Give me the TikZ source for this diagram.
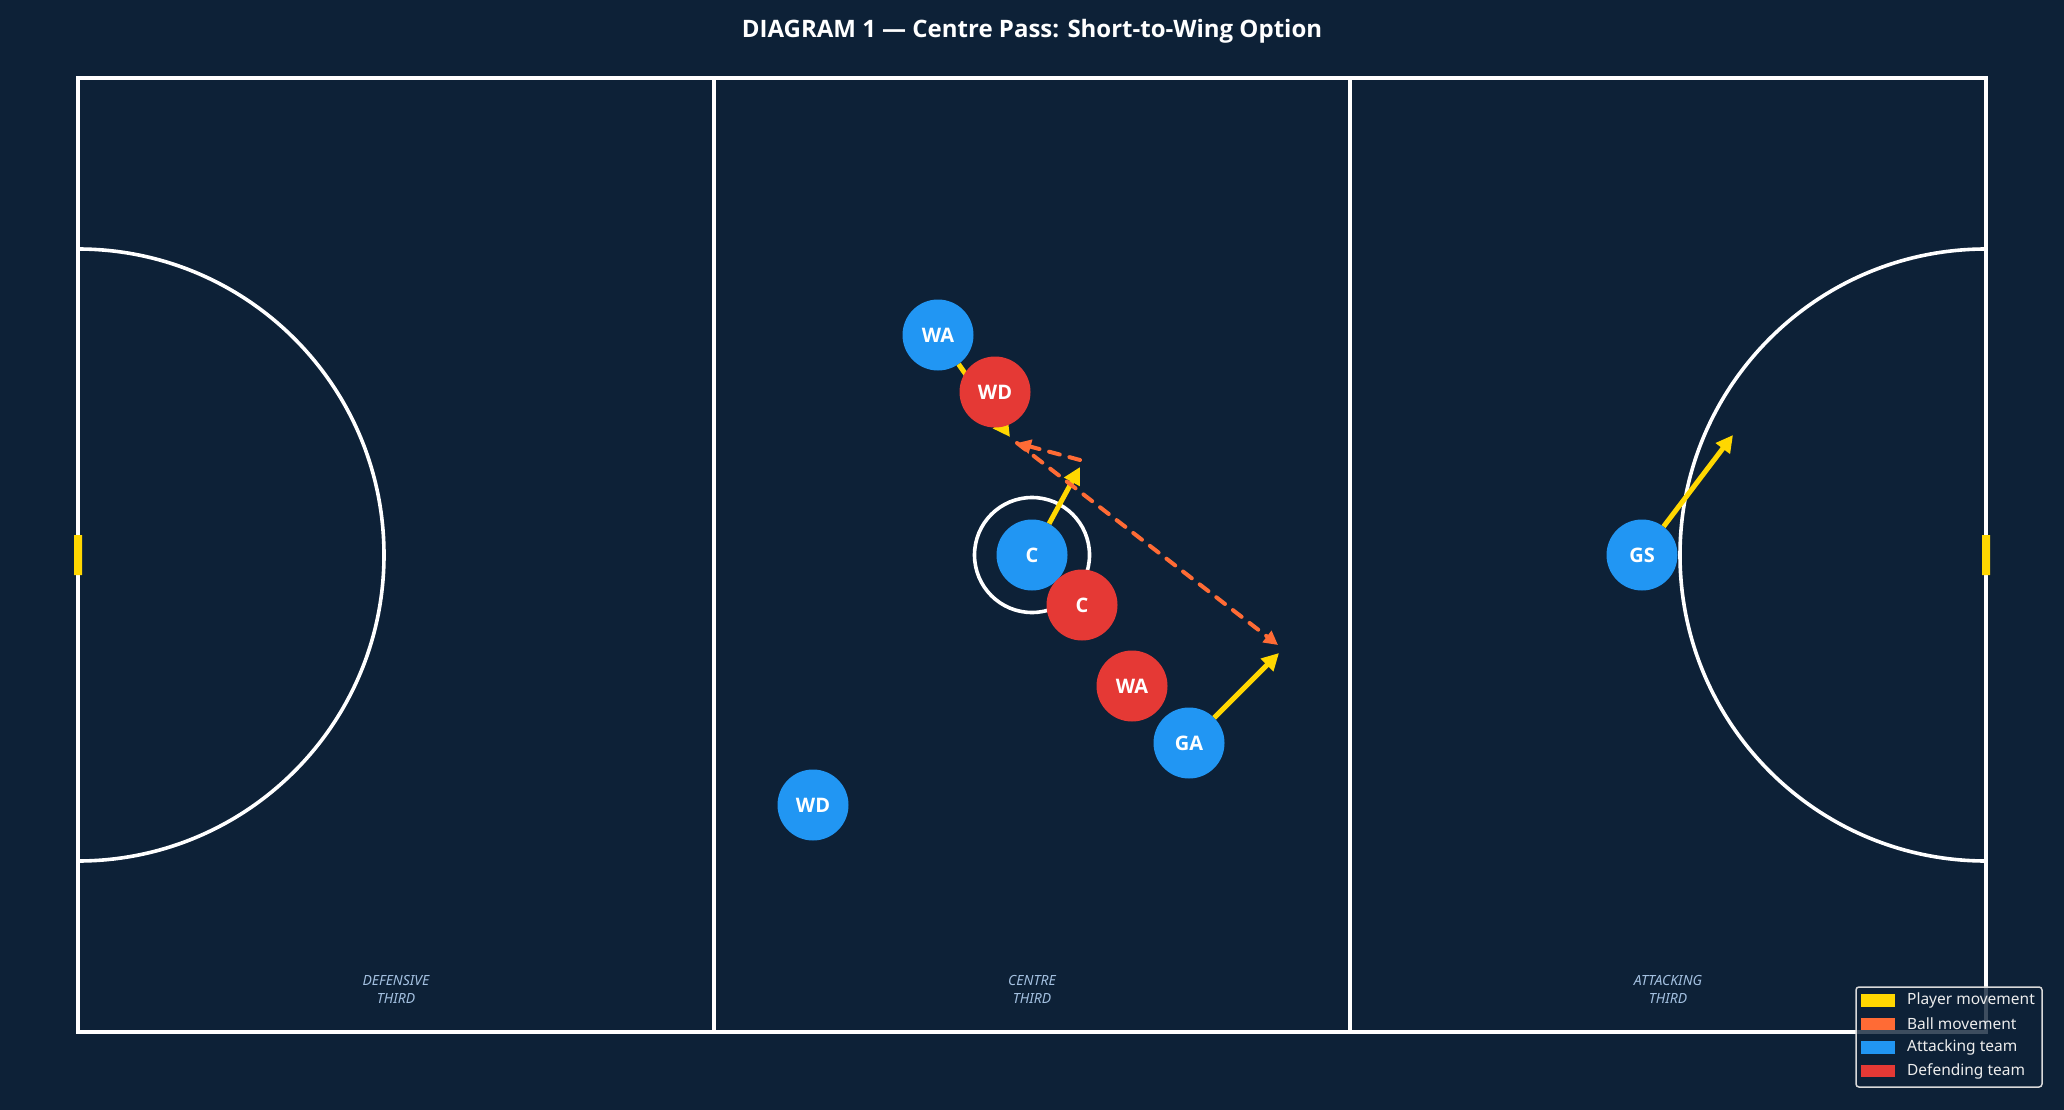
\documentclass[tikz,border=0pt]{standalone}
\usepackage{fontspec}
\setmainfont{Noto Sans}
\newfontfamily\headfont{Open Sans}
\usetikzlibrary{arrows.meta, positioning}

\definecolor{courtbg}{HTML}{0D2137}
\definecolor{attack}{HTML}{2196F3}
\definecolor{defend}{HTML}{E53935}
\definecolor{runcol}{HTML}{FFD700}
\definecolor{ballcol}{HTML}{FF6B35}
\definecolor{zonecol}{HTML}{A3C0E0}

\begin{document}
\begin{tikzpicture}[x=1pt, y=-1pt,
    courtline/.style={draw=white, line width=3.6pt},
    player/.style={circle, minimum size=71pt, inner sep=0pt, text=white,
        font=\headfont\fontsize{20}{24}\selectfont\bfseries},
    att/.style={player, fill=attack},
    def/.style={player, fill=defend},
    run/.style={draw=runcol, line width=5pt,
        -{Triangle[length=17pt, width=17pt, fill=runcol]}},
    ball/.style={draw=ballcol, line width=4pt, line cap=round,
        dash pattern=on 11pt off 10pt, -{Triangle[length=14pt, width=14pt, fill=ballcol]}},
    zone/.style={text=zonecol, align=center, font=\fontsize{14}{18}\selectfont\itshape},
    swatch/.style={minimum width=34pt, minimum height=12.7pt, inner sep=0pt},
    keytext/.style={inner sep=0pt, text=white!93!black, font=\fontsize{15.5}{18}\selectfont}]

    \fill[courtbg] (0,0) rectangle (2064,1110);
    \node[text=white, font=\headfont\fontsize{24}{28}\selectfont\bfseries] (title) at (1032,31)
        {DIAGRAM 1 — Centre Pass: Short-to-Wing Option};

    % court
    \draw[courtline] (78,78) rectangle (1986,1032);
    \draw[courtline] (714,78) -- (714,1032) (1350,78) -- (1350,1032);
    \draw[courtline] (78,249) arc[start angle=-90, end angle=90, radius=306];
    \draw[courtline] (1986,249) arc[start angle=270, end angle=90, radius=306];
    \draw[courtline] (1032,555) circle[radius=57.5];
    \fill[runcol] (74,535) rectangle (82,575) (1982,535) rectangle (1990,575);

    \node[zone] (def_third) at (396,989) {DEFENSIVE\\THIRD};
    \node[zone] (cen_third) at (1032,989) {CENTRE\\THIRD};
    \node[zone] (att_third) at (1668,989) {ATTACKING\\THIRD};

    % attacking team
    \node[att] (wa_a) at (938,335) {WA};
    \node[att] (c_a) at (1032,555) {C};
    \node[att] (ga_a) at (1189,743) {GA};
    \node[att] (wd_a) at (813,805) {WD};
    \node[att] (gs_a) at (1642,555) {GS};

    \coordinate (wa_to) at (1010,437);
    \coordinate (c_to) at (1080,467);
    \coordinate (ga_to) at (1279,653);
    \coordinate (gs_to) at (1733,435);
    \coordinate (pass_0) at (1080,460);
    \coordinate (pass_1) at (1017,443);
    \coordinate (pass_2) at (1278,645);

    \draw[run] (wa_a) -- (wa_to);
    \draw[run] (c_a) -- (c_to);
    \draw[run] (ga_a) -- (ga_to);
    \draw[run] (gs_a) -- (gs_to);
    \draw[ball] (pass_0) -- (pass_1);
    \draw[ball] (pass_1) -- (pass_2);

    % defending team
    \node[def] (wd_d) at (995,392) {WD};
    \node[def] (c_d) at (1082,605) {C};
    \node[def] (wa_d) at (1132,686) {WA};

    % legend
    \draw[draw=white!85!black, fill=courtbg, fill opacity=0.8, line width=1.5pt,
        rounded corners=3pt] (1856,987) rectangle (2042,1087);
    \foreach \col/\txt [count=\i] in {runcol/Player movement, ballcol/Ball movement,
        attack/Attacking team, defend/Defending team} {
        \node[swatch, fill=\col] (key_\i) at (1878,{1000.3+23.6*(\i-1)}) {};
        \node[keytext, right=11.7pt of key_\i] {\txt};
    }
\end{tikzpicture}
\end{document}
